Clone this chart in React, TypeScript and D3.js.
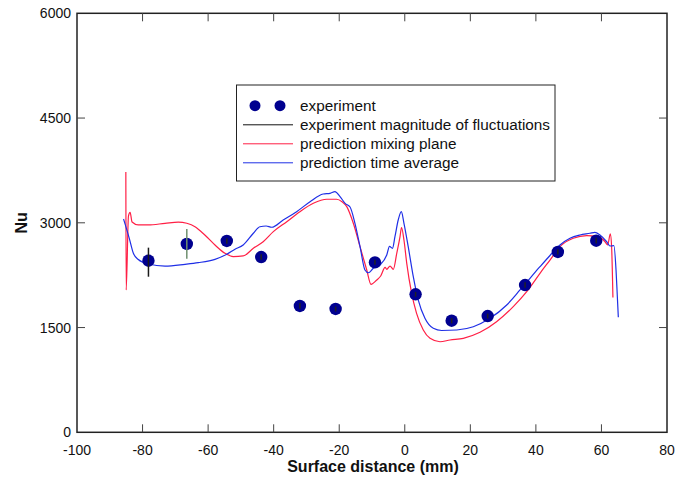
import React from "react";
import * as d3 from "d3";

const xTicks = [-100, -80, -60, -40, -20, 0, 20, 40, 60, 80];
const yTicks = [0, 1500, 3000, 4500, 6000];

const expX = [-78.2, -66.5, -54.3, -43.8, -32.0, -21.1, -9.1, 3.3, 14.3, 25.3, 36.7, 46.7, 58.4];
const expY = [2457, 2697, 2740, 2510, 1809, 1766, 2434, 1976, 1598, 1665, 2109, 2582, 2744];
const errLow = [2228, 2486, 2700, 2470, 1770, 1730, 2400, 1940, 1560, 1630, 2070, 2545, 2705];
const errHigh = [2644, 2911, 2780, 2550, 1850, 1800, 2470, 2010, 1635, 1700, 2150, 2620, 2785];
const errColors = ["#1a1a1a", "#6f8f6f", "#222", "#222", "#222", "#222", "#222", "#222", "#222", "#222", "#222", "#222", "#222"];

const mixX = [-85.1, -85.0, -84.3, -83.8, -83.2, -81.3, -78.25, -73.15, -69.1, -66.5, -64.0, -61.0, -57.9, -54.85, -52.3, -49.3, -46.2, -43.2, -40.1, -36.0, -32.0, -27.9, -23.8, -20.8, -19.15, -17.7, -15.7, -13.65, -11.6, -10.3, -8.55, -7.35, -6.0, -5.5, -4.5, -3.5, -2.45, -1.45, -1.0, -0.25, 0.6, 2.1, 3.6, 5.65, 7.7, 10.75, 13.8, 17.85, 22.95, 28.0, 33.1, 37.2, 41.25, 44.3, 47.35, 51.4, 55.5, 59.0, 61.1, 61.9, 62.7, 63.1, 63.5];
const mixY = [3728, 2038, 3097, 3150, 3011, 2969, 2969, 2993, 3011, 2993, 2944, 2825, 2682, 2563, 2517, 2525, 2635, 2729, 2873, 3016, 3159, 3279, 3337, 3337, 3302, 3231, 2993, 2658, 2324, 2119, 2181, 2238, 2363, 2334, 2381, 2334, 2563, 2801, 2933, 2754, 2420, 1990, 1704, 1465, 1346, 1297, 1322, 1346, 1432, 1584, 1799, 2013, 2277, 2467, 2658, 2778, 2815, 2801, 2729, 2682, 2840, 2658, 1930];

const avgX = [-85.8, -84.05, -82.8, -81.3, -78.25, -73.15, -67.05, -63.0, -57.9, -54.3, -51.8, -49.3, -46.2, -44.2, -42.3, -40.6, -37.1, -33.0, -28.9, -24.9, -22.8, -21.3, -19.75, -18.2, -16.7, -15.2, -13.65, -12.15, -11.1, -9.6, -7.55, -5.5, -4.65, -3.75, -3.0, -2.0, -1.05, -0.25, 1.05, 2.6, 4.1, 6.15, 8.7, 11.25, 15.85, 20.9, 26.0, 31.1, 35.15, 38.2, 41.25, 44.3, 47.35, 50.4, 53.45, 56.5, 58.0, 59.55, 61.6, 62.6, 63.8, 64.45, 64.85, 65.15];
const avgY = [3054, 2778, 2563, 2474, 2410, 2381, 2406, 2429, 2477, 2549, 2621, 2682, 2850, 2944, 2954, 2936, 3040, 3159, 3302, 3412, 3422, 3445, 3374, 3279, 3226, 2993, 2658, 2324, 2285, 2348, 2396, 2539, 2661, 2635, 2801, 3040, 3159, 2993, 2658, 2228, 1895, 1632, 1489, 1458, 1465, 1512, 1632, 1823, 2038, 2205, 2371, 2532, 2682, 2778, 2825, 2850, 2864, 2825, 2729, 2668, 2672, 2324, 1942, 1647];

const legendLabels = ["experiment", "experiment magnitude of fluctuations", "prediction mixing plane", "prediction time average"];

const RED = "#ff1f45";
const BLUE = "#1f2fe6";
const DOT = "#00008f";
const FONT = "'Liberation Sans', Arial, sans-serif";

export default function App() {
  const W = 689, H = 482;
  const x = d3.scaleLinear().domain([-100, 80]).range([77, 667]);
  const y = d3.scaleLinear().domain([0, 6000]).range([432.3, 13.3]);
  const line = d3.line<[number, number]>().x(d => x(d[0])).y(d => y(d[1])).curve(d3.curveMonotoneX);
  const mixPts = mixX.map((v, i) => [v, mixY[i]] as [number, number]);
  const avgPts = avgX.map((v, i) => [v, avgY[i]] as [number, number]);
  const x0 = x(-100), x1 = x(80), y0 = y(0), y1 = y(6000);
  const tl = 8;
  const rows = [105.7, 124.8, 143.8, 162.8];

  return (
    <svg width={W} height={H} style={{ position: "absolute", left: 0, top: 0, background: "#fff" }} fontFamily={FONT}>
      <rect x={0} y={0} width={W} height={H} fill="#fff" />
      <rect x={x0} y={y1} width={x1 - x0} height={y0 - y1} fill="none" stroke="#222" strokeWidth={1.5} />
      {xTicks.map(t => (
        <g key={"xt" + t}>
          {t > -100 && t < 80 && <line x1={x(t)} x2={x(t)} y1={y0} y2={y0 - tl} stroke="#444" strokeWidth={1} />}
          {t > -100 && t < 80 && <line x1={x(t)} x2={x(t)} y1={y1} y2={y1 + tl} stroke="#444" strokeWidth={1} />}
          <text x={x(t)} y={y0 + 23} textAnchor="middle" fontSize={14} fill="#111">{t}</text>
        </g>
      ))}
      {yTicks.map(t => (
        <g key={"yt" + t}>
          {t > 0 && t < 6000 && <line x1={x0} x2={x0 + tl} y1={y(t)} y2={y(t)} stroke="#444" strokeWidth={1} />}
          {t > 0 && t < 6000 && <line x1={x1} x2={x1 - tl} y1={y(t)} y2={y(t)} stroke="#444" strokeWidth={1} />}
          <text x={x0 - 6} y={y(t) + 5} textAnchor="end" fontSize={14} fill="#111">{t}</text>
        </g>
      ))}
      <text x={373} y={472} textAnchor="middle" fontSize={16} fontWeight="bold" fill="#111">Surface distance (mm)</text>
      <text transform={`translate(27,${y(3000)}) rotate(-90)`} textAnchor="middle" fontSize={16} fontWeight="bold" fill="#111">Nu</text>

      <path d={line(mixPts) || ""} fill="none" stroke={RED} strokeWidth={1.2} />
      <path d={line(avgPts) || ""} fill="none" stroke={BLUE} strokeWidth={1.2} />

      {expX.map((v, i) => (
        <circle key={"d" + i} cx={x(v)} cy={y(expY[i])} r={6.2} fill={DOT} />
      ))}
      {expX.map((v, i) => (
        <line key={"e" + i} x1={x(v)} x2={x(v)} y1={y(errLow[i])} y2={y(errHigh[i])} stroke={errColors[i]} strokeWidth={1.5} />
      ))}

      <g>
        <rect x={236.5} y={85} width={318.5} height={96} fill="#fff" stroke="#222" strokeWidth={1} />
        <circle cx={255} cy={rows[0]} r={5.5} fill={DOT} />
        <circle cx={280} cy={rows[0]} r={5.5} fill={DOT} />
        <line x1={243} x2={293} y1={rows[1]} y2={rows[1]} stroke="#111" strokeWidth={1} />
        <line x1={243} x2={293} y1={rows[2]} y2={rows[2]} stroke={RED} strokeWidth={1} />
        <line x1={243} x2={293} y1={rows[3]} y2={rows[3]} stroke={BLUE} strokeWidth={1} />
        {legendLabels.map((l, i) => (
          <text key={l} x={300} y={rows[i] + 5.5} fontSize={15.3} fill="#111">{l}</text>
        ))}
      </g>
    </svg>
  );
}
